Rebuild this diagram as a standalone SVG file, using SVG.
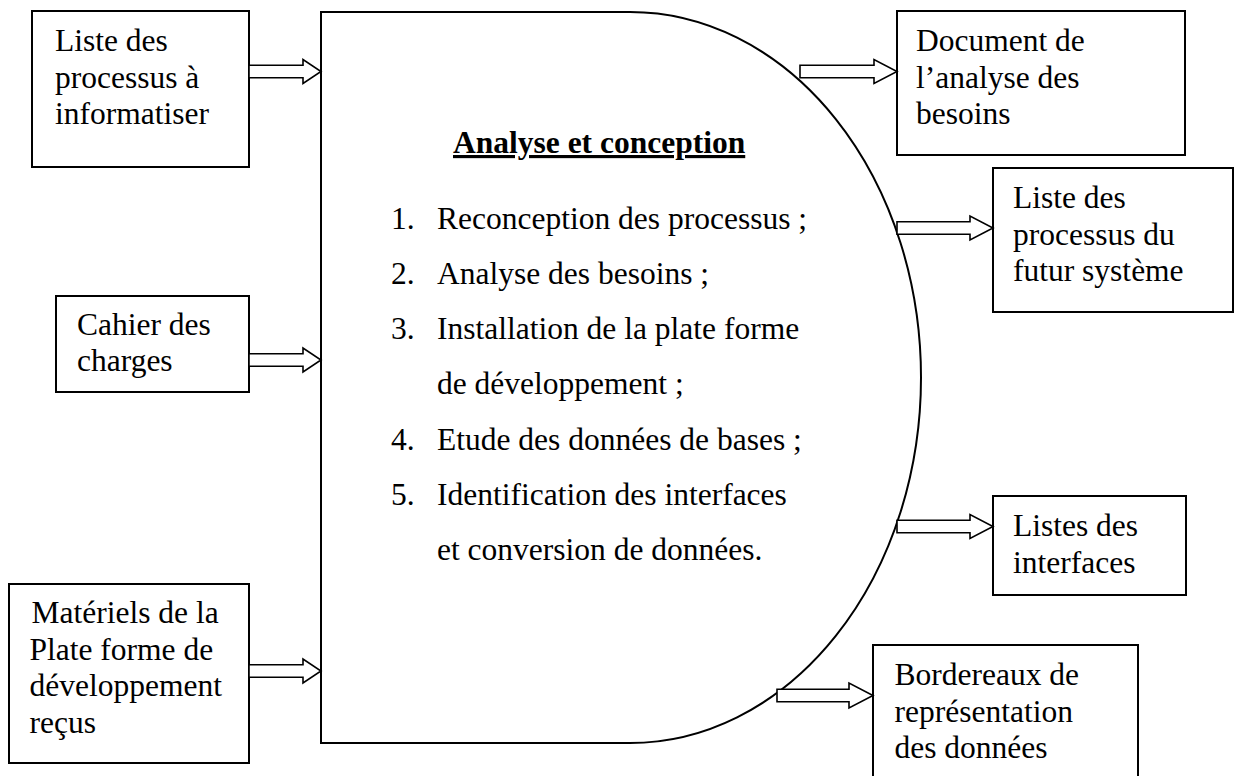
<svg xmlns="http://www.w3.org/2000/svg" width="1241" height="776" viewBox="0 0 1241 776">
  <style>
    .box { fill: #ffffff; stroke: #000000; stroke-width: 2; }
    .proc { fill: #ffffff; stroke: #000000; stroke-width: 2; }
    .arrow { fill: #ffffff; stroke: #000000; stroke-width: 1.6; stroke-linejoin: miter; }
    text { font-family: "Liberation Serif", "Times New Roman", serif; font-size: 31.5px; fill: #000000; }
    .title { font-weight: bold; text-decoration: underline; }
  </style>
  <rect width="1241" height="776" fill="#ffffff"/>

  <!-- central process: rectangle with an elliptical right side -->
  <g id="process">
    <path class="proc" d="M321,12 H630 A291,365.5 0 0 1 630,743 H321 Z"/>
    <text class="title" x="453" y="153">Analyse et conception</text>
    <text x="391" y="229">1.</text><text x="437" y="229">Reconception des processus ;</text>
    <text x="391" y="284">2.</text><text x="437" y="284">Analyse des besoins ;</text>
    <text x="391" y="339">3.</text><text x="437" y="339">Installation de la plate forme</text>
    <text x="437" y="394">de développement ;</text>
    <text x="391" y="449.5">4.</text><text x="437" y="449.5">Etude des données de bases ;</text>
    <text x="391" y="504.5">5.</text><text x="437" y="504.5">Identification des interfaces</text>
    <text x="437" y="559.5">et conversion de données.</text>
  </g>

  <!-- inputs -->
  <g id="input-processus">
    <rect class="box" x="32" y="11" width="217" height="156"/>
    <text x="55" y="51">Liste des</text>
    <text x="55" y="87.5">processus à</text>
    <text x="55" y="124">informatiser</text>
  </g>
  <g id="input-cahier">
    <rect class="box" x="56" y="296" width="193" height="96"/>
    <text x="77" y="334.5">Cahier des</text>
    <text x="77" y="371">charges</text>
  </g>
  <g id="input-materiels">
    <rect class="box" x="9" y="584" width="240" height="179"/>
    <text x="31.5" y="623">Matériels de la</text>
    <text x="29.5" y="659.5">Plate forme de</text>
    <text x="29.5" y="696">développement</text>
    <text x="29.5" y="732.5">reçus</text>
  </g>

  <!-- outputs -->
  <g id="output-document">
    <rect class="box" x="897" y="11" width="288" height="144"/>
    <text x="916" y="51">Document de</text>
    <text x="916" y="87.5">l’analyse des</text>
    <text x="916" y="124">besoins</text>
  </g>
  <g id="output-processus">
    <rect class="box" x="993" y="168" width="240" height="144"/>
    <text x="1013" y="208">Liste des</text>
    <text x="1013" y="244.5">processus du</text>
    <text x="1013" y="281">futur système</text>
  </g>
  <g id="output-interfaces">
    <rect class="box" x="993" y="496" width="193" height="99"/>
    <text x="1013" y="536">Listes des</text>
    <text x="1013" y="572.5">interfaces</text>
  </g>
  <g id="output-bordereaux">
    <rect class="box" x="873" y="645" width="265" height="140"/>
    <text x="894.5" y="685">Bordereaux de</text>
    <text x="894.5" y="721.5">représentation</text>
    <text x="894.5" y="758">des données</text>
  </g>

  <!-- hollow block arrows -->
  <g id="connectors">
    <polygon class="arrow" points="249,65.2 303,65.2 303,59.5 321,71.5 303,83.5 303,77.8 249,77.8"/>
    <polygon class="arrow" points="249,353.7 303,353.7 303,348 321,360 303,372 303,366.3 249,366.3"/>
    <polygon class="arrow" points="249,664.7 303,664.7 303,659 321,671 303,683 303,677.3 249,677.3"/>
    <polygon class="arrow" points="800,65.2 874,65.2 874,59.5 897,71.5 874,83.5 874,77.8 800,77.8"/>
    <polygon class="arrow" points="897,221.7 970,221.7 970,216 993,228 970,240 970,234.3 897,234.3"/>
    <polygon class="arrow" points="897,520.2 970,520.2 970,514.5 993,526.5 970,538.5 970,532.8 897,532.8"/>
    <polygon class="arrow" points="777,689.2 849,689.2 849,683 873,695.5 849,708 849,701.8 777,701.8"/>
  </g>
</svg>
